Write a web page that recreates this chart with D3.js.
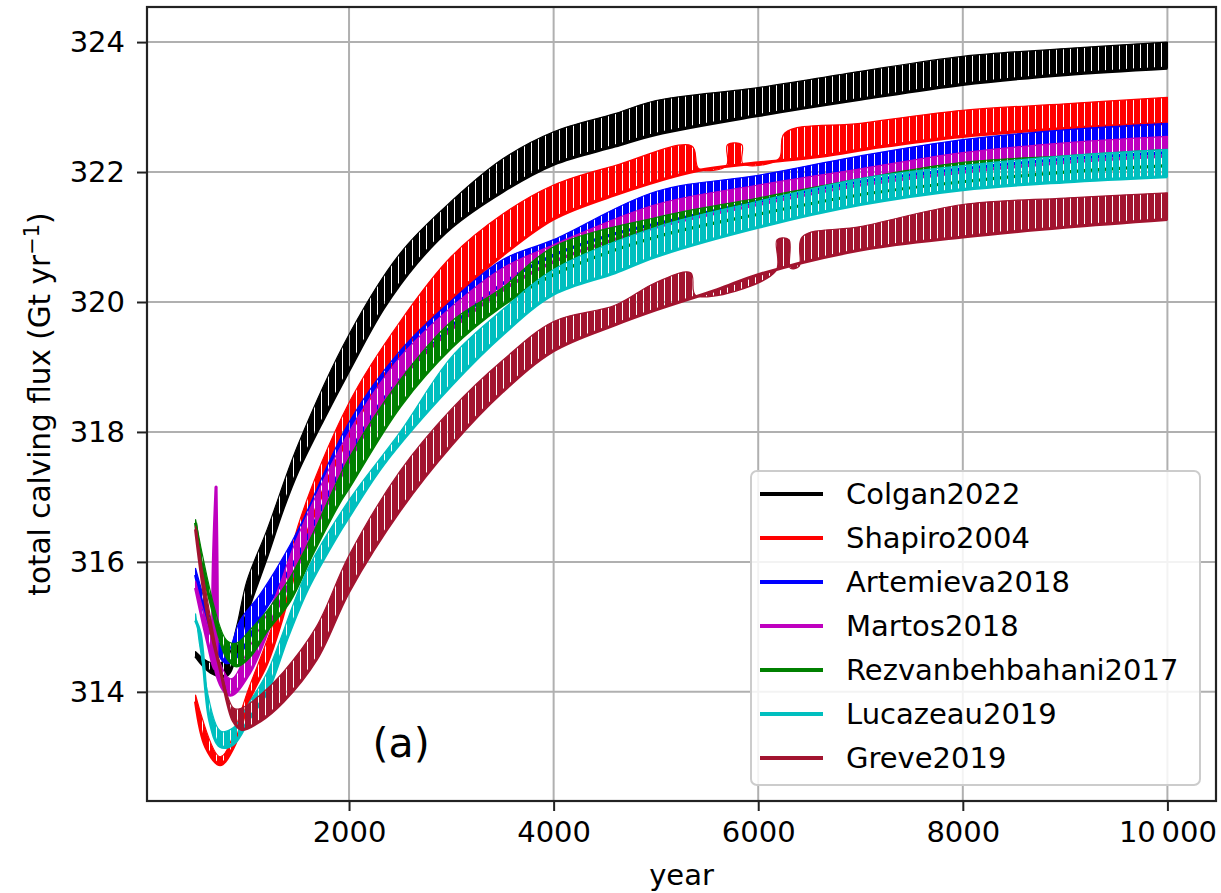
<!DOCTYPE html>
<html>
<head>
<meta charset="utf-8">
<script src="https://cdn.jsdelivr.net/npm/d3@7"></script>
<style>
  body { margin: 0; background: #fff; }
  text { font-family: "DejaVu Sans", sans-serif; fill: #000; }
</style>
</head>
<body>
<svg id="chart" width="1221" height="893"></svg>
<script>
// model names, in plotting order
var names = ["Colgan2022", "Shapiro2004", "Artemieva2018", "Martos2018",
             "Rezvanbehbahani2017", "Lucazeau2019", "Greve2019"]
var colors = ["#000000", "#ff0000", "#0000ff", "#bf00bf", "#008000", "#00bfbf", "#a2142f"]

var xTicks = [2000, 4000, 6000, 8000, 10000]
var yTicks = [314, 316, 318, 320, 322, 324]

// lower line of each run, [year, flux]
var colganBase = [[500,314.55],[650,314.3],[800,314.25],[900,314.6],[1000,315.2],[1200,316.1],[1350,316.8],[1500,317.4],[1750,318.2],[2000,318.95],[2335,319.9],[2660,320.6],[3000,321.15],[3500,321.7],[4000,322.12],[4600,322.4],[5000,322.58],[6000,322.87],[7000,323.12],[8000,323.35],[9000,323.5],[10000,323.6]]
var shapiroBase = [[500,313.85],[600,313.15],[740,312.88],[870,313.15],[1030,313.9],[1200,314.45],[1330,315.05],[1500,316.0],[1750,317.1],[2000,317.95],[2335,318.85],[2660,319.5],[3000,320.05],[3500,320.72],[4000,321.28],[4600,321.65],[5400,322.02],[6000,322.14],[6600,322.24],[7200,322.39],[8000,322.55],[9000,322.67],[10000,322.75]]
var artemievaBase = [[500,315.8],[650,314.9],[800,314.45],[935,314.6],[1130,315.15],[1330,315.65],[1520,316.15],[1800,317.05],[2000,317.65],[2335,318.5],[3000,319.62],[3500,320.28],[4000,320.72],[4600,321.05],[5000,321.2],[6000,321.55],[7000,321.85],[8000,322.05],[9000,322.2],[10000,322.3]]
var martosBase = [[500,315.6],[620,314.75],[690,314.35],[700,317.15],[710,314.25],[840,313.95],[1030,314.3],[1260,315.15],[1500,315.95],[2000,317.55],[2500,318.8],[3000,319.58],[3500,320.18],[4000,320.62],[5000,321.15],[6000,321.5],[7000,321.8],[8000,322.0],[9000,322.15],[10000,322.25]]
var rezvanBase = [[500,316.6],[560,315.95],[660,315.3],[800,314.55],[900,314.4],[1030,314.55],[1200,314.95],[1420,315.4],[1650,316.15],[1900,316.9],[2000,317.15],[2500,318.4],[3000,319.3],[3500,319.95],[4000,320.42],[5000,321.0],[6000,321.35],[7000,321.65],[8000,321.85],[9000,322.0],[10000,322.1]]
var lucazeauBase = [[500,315.1],[545,314.9],[640,313.55],[740,313.16],[870,313.2],[1030,313.6],[1200,314.0],[1400,314.85],[1600,315.6],[1900,316.45],[2000,316.7],[2335,317.5],[3000,318.72],[3500,319.5],[4000,320.12],[4600,320.45],[5000,320.7],[6000,321.15],[7000,321.5],[8000,321.73],[9000,321.85],[10000,321.93]]
var greveBase = [[500,316.5],[615,315.2],[740,314.35],[870,313.55],[950,313.42],[1130,313.55],[1355,313.85],[1680,314.5],[2000,315.55],[2500,316.8],[3000,317.8],[3500,318.62],[4000,319.25],[4600,319.65],[5000,319.88],[5600,320.19],[6000,320.42],[7000,320.8],[8000,321.0],[9000,321.15],[10000,321.27]]

// top of the spikes of each run, [year, flux]
var colganTop = [[500,314.62],[650,314.45],[800,314.5],[900,315.0],[1000,315.7],[1200,316.5],[1500,317.8],[2000,319.5],[2500,320.75],[3000,321.55],[3500,322.2],[4000,322.62],[4600,322.9],[5000,323.1],[6000,323.3],[7000,323.55],[8000,323.78],[9000,323.9],[10000,324.0]]
var shapiroTop = [[500,313.95],[740,313.0],[1030,314.1],[1330,315.4],[1500,316.55],[2000,318.45],[2500,319.7],[3000,320.7],[3500,321.35],[4000,321.8],[4600,322.1],[5350,322.4],[5420,322.05],[5690,322.1],[5700,322.42],[5840,322.42],[5850,322.13],[6200,322.2],[6260,322.6],[7000,322.75],[8000,322.95],[9000,323.05],[10000,323.15]]
var artemievaTop = [[500,315.9],[800,314.6],[935,315.1],[1130,315.5],[1330,316.0],[1520,316.55],[2000,318.15],[2500,319.25],[3000,320.02],[3500,320.65],[4000,320.96],[5000,321.7],[6000,321.95],[7000,322.25],[8000,322.5],[9000,322.65],[10000,322.75]]
var martosTop = [[500,315.7],[840,314.2],[1030,314.7],[1260,315.4],[1500,316.4],[2000,318.0],[2500,319.15],[3000,319.92],[3500,320.52],[4000,320.88],[5000,321.5],[6000,321.8],[7000,322.05],[8000,322.3],[9000,322.45],[10000,322.55]]
var rezvanTop = [[500,316.65],[800,314.8],[900,314.75],[1030,314.95],[1200,315.25],[1420,315.75],[1650,316.45],[2000,317.6],[2500,318.8],[3000,319.7],[3500,320.22],[4000,320.85],[5000,321.3],[6000,321.6],[7000,321.9],[8000,322.15],[9000,322.25],[10000,322.35]]
var lucazeauTop = [[500,315.2],[740,313.4],[870,313.45],[1030,313.85],[1200,314.3],[1600,315.9],[2000,316.95],[2500,318.0],[3000,319.15],[3500,319.88],[4000,320.5],[5000,321.15],[6000,321.55],[7000,321.9],[8000,322.1],[9000,322.25],[10000,322.35]]
var greveTop = [[500,316.55],[870,313.75],[950,313.75],[1130,313.95],[1355,314.3],[1680,315.0],[2000,316.1],[2500,317.4],[3000,318.35],[3500,319.1],[4000,319.7],[4600,319.95],[5000,320.3],[5340,320.45],[5390,320.1],[6170,320.47],[6185,320.96],[6300,320.96],[6315,320.52],[6400,320.55],[6430,321.0],[7000,321.16],[8000,321.5],[9000,321.6],[10000,321.68]]

var bases = [colganBase, shapiroBase, artemievaBase, martosBase, rezvanBase, lucazeauBase, greveBase]
var tops = [colganTop, shapiroTop, artemievaTop, martosTop, rezvanTop, lucazeauTop, greveTop]

var plotL = 147, plotR = 1216, plotT = 7, plotB = 801

var svg = d3.select("#chart")

var x = d3.scaleLinear().domain([25, 10475]).range([plotL, plotR])
var y = d3.scaleLinear().domain([312.32, 324.54]).range([plotB, plotT])

var defs = svg.append("defs")
defs.append("clipPath").attr("id", "plotclip")
	.append("rect")
	.attr("x", plotL).attr("y", plotT)
	.attr("width", plotR - plotL).attr("height", plotB - plotT)

// vertical stripes to give the bands their spiky look
colors.forEach(function(c, i){
	var p = defs.append("pattern")
		.attr("id", "spk" + i)
		.attr("patternUnits", "userSpaceOnUse")
		.attr("width", 7).attr("height", 20)
	p.append("rect").attr("x", 0).attr("y", 0)
		.attr("width", 6).attr("height", 20).attr("fill", c)
		.attr("shape-rendering", "crispEdges")
})

// grid
var grid = svg.append("g")
grid.selectAll(".gx").data(xTicks).enter().append("line")
	.attr("x1", d => x(d)).attr("x2", d => x(d))
	.attr("y1", plotT).attr("y2", plotB)
	.style("stroke", "#b0b0b0").style("stroke-width", 2)
grid.selectAll(".gy").data(yTicks).enter().append("line")
	.attr("x1", plotL).attr("x2", plotR)
	.attr("y1", d => y(d)).attr("y2", d => y(d))
	.style("stroke", "#b0b0b0").style("stroke-width", 2)

var line = d3.line().x(d => x(d[0])).y(d => y(d[1]))
	.curve(d3.curveCatmullRom.alpha(0.5))

var plot = svg.append("g").attr("clip-path", "url(#plotclip)")

names.forEach(function(name, i){
	// spike band: top forward, base backward
	var topD = line(tops[i])
	var baseD = line(bases[i].slice().reverse())
	plot.append("path")
		.attr("d", topD + "L" + baseD.slice(1) + "Z")
		.attr("fill", "url(#spk" + i + ")")
		.attr("stroke", colors[i])
		.attr("stroke-width", 1.2)
		.attr("stroke-linejoin", "round")
	plot.append("path")
		.attr("d", line(bases[i]))
		.attr("fill", "none")
		.attr("stroke", colors[i])
		.attr("stroke-width", 3.2)
		.attr("stroke-linejoin", "round")
})

// axes
var xAxis = d3.axisBottom(x).tickValues(xTicks).tickSize(10).tickPadding(10)
	.tickFormat(d => d >= 10000 ? d3.format("d")(Math.floor(d/1000)) + "\u2009" + "000" : d3.format("d")(d))
var yAxis = d3.axisLeft(y).tickValues(yTicks).tickSize(10).tickPadding(12)

var gx = svg.append("g").attr("transform", "translate(0," + plotB + ")").call(xAxis)
var gy = svg.append("g").attr("transform", "translate(" + plotL + ",0)").call(yAxis)
;[gx, gy].forEach(function(g){
	g.select(".domain").remove()
	g.selectAll("line").style("stroke", "#222").style("stroke-width", 2)
	g.selectAll("text").style("font-size", "29px").style("font-family", "DejaVu Sans")
})

svg.append("rect")
	.attr("x", plotL).attr("y", plotT)
	.attr("width", plotR - plotL).attr("height", plotB - plotT)
	.attr("fill", "none").style("stroke", "#222").style("stroke-width", 2.2)

svg.append("text")
	.attr("x", (plotL + plotR) / 2).attr("y", 885)
	.attr("text-anchor", "middle")
	.style("font-size", "29px")
	.text("year")

var ylab = svg.append("text")
	.attr("transform", "translate(50," + ((plotT + plotB) / 2) + ") rotate(-90)")
	.attr("text-anchor", "middle")
	.style("font-size", "29.5px")
ylab.append("tspan").text("total calving flux (Gt yr")
ylab.append("tspan").attr("dy", -11).style("font-size", "21px").text("\u22121")
ylab.append("tspan").attr("dy", 11).text(")")

svg.append("text")
	.attr("x", x(2230)).attr("y", y(313.0))
	.style("font-size", "41px")
	.text("(a)")

// legend
var lg = svg.append("g")
lg.append("rect")
	.attr("x", 751).attr("y", 471)
	.attr("width", 449).attr("height", 314)
	.attr("rx", 6)
	.attr("fill", "#fff").attr("fill-opacity", 0.85)
	.style("stroke", "#cccccc").style("stroke-width", 2)

var items = lg.selectAll(".item").data(names).enter().append("g")
	.attr("transform", (d, i) => "translate(0," + (494 + i * 44) + ")")
items.append("line")
	.attr("x1", 760).attr("x2", 823)
	.attr("y1", 0).attr("y2", 0)
	.style("stroke", (d, i) => colors[i]).style("stroke-width", 4)
items.append("text")
	.attr("x", 846).attr("y", 0)
	.attr("dy", "0.36em")
	.style("font-size", "29px")
	.text(d => d)
</script>
</body>
</html>
